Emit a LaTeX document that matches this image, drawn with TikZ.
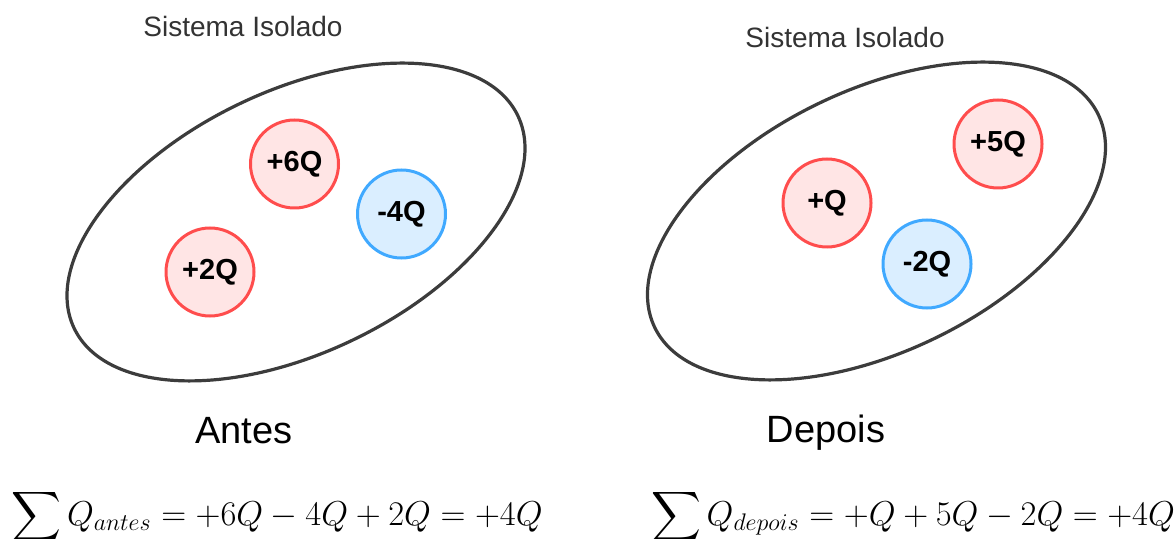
\documentclass[tikz,border=0pt]{standalone}
\usepackage{amsmath}
\usepackage{fontspec}
\setmainfont{Liberation Sans}
\definecolor{chgred}{HTML}{FF4D4D}
\definecolor{chgredfill}{HTML}{FFE5E5}
\definecolor{chgblue}{HTML}{40A9FF}
\definecolor{chgbluefill}{HTML}{DAEEFF}
\definecolor{sysgray}{HTML}{3C3C3C}

\begin{document}
\begin{tikzpicture}[x=0.5pt,y=-0.5pt,
    poscharge/.style={circle,draw=chgred,fill=chgredfill,line width=1.5pt,minimum size=44pt,inner sep=0pt,font=\fontsize{14.5}{17}\selectfont\bfseries},
    negcharge/.style={poscharge,draw=chgblue,fill=chgbluefill},
    sysline/.style={draw=sysgray,line width=1.6pt},
    systitle/.style={text=black!80,font=\fontsize{14}{17}\selectfont},
    moment/.style={font=\fontsize{19}{22}\selectfont},
    soma/.style={font=\fontsize{17}{20}\selectfont}]
    \useasboundingbox (0,0) rectangle (1176,539);
    % antes
    \coordinate (antesc) at (296,222);
    \draw[sysline,rotate around={25.6:(antesc)}] (antesc) ellipse [x radius=246,y radius=131];
    \node[systitle] (sysantes) at (243,26) {Sistema Isolado};
    \node[poscharge] (q6) at (294.5,164) {+6Q}; \node[negcharge] (qm4) at (401.5,214) {-4Q}; \node[poscharge] (q2) at (210,272) {+2Q};
    \node[moment] (antes) at (244,431) {Antes};
    \node[soma] (somaantes) at (277,517) {$\displaystyle\sum Q_{antes} = +6Q - 4Q + 2Q = +4Q$};

    % depois
    \coordinate (depoisc) at (876.5,221);
    \draw[sysline,rotate around={25.6:(depoisc)}] (depoisc) ellipse [x radius=246,y radius=131];
    \node[systitle] (sysdepois) at (845,37) {Sistema Isolado};
    \node[poscharge] (q1) at (827,203) {+Q}; \node[poscharge] (q5) at (998,144) {+5Q}; \node[negcharge] (qm2) at (927,264) {-2Q};
    \node[moment] (depois) at (826,433) {Depois};
    \node[soma] (somadepois) at (913,517) {$\displaystyle\sum Q_{depois} = +Q + 5Q - 2Q = +4Q$};
\end{tikzpicture}
\end{document}
